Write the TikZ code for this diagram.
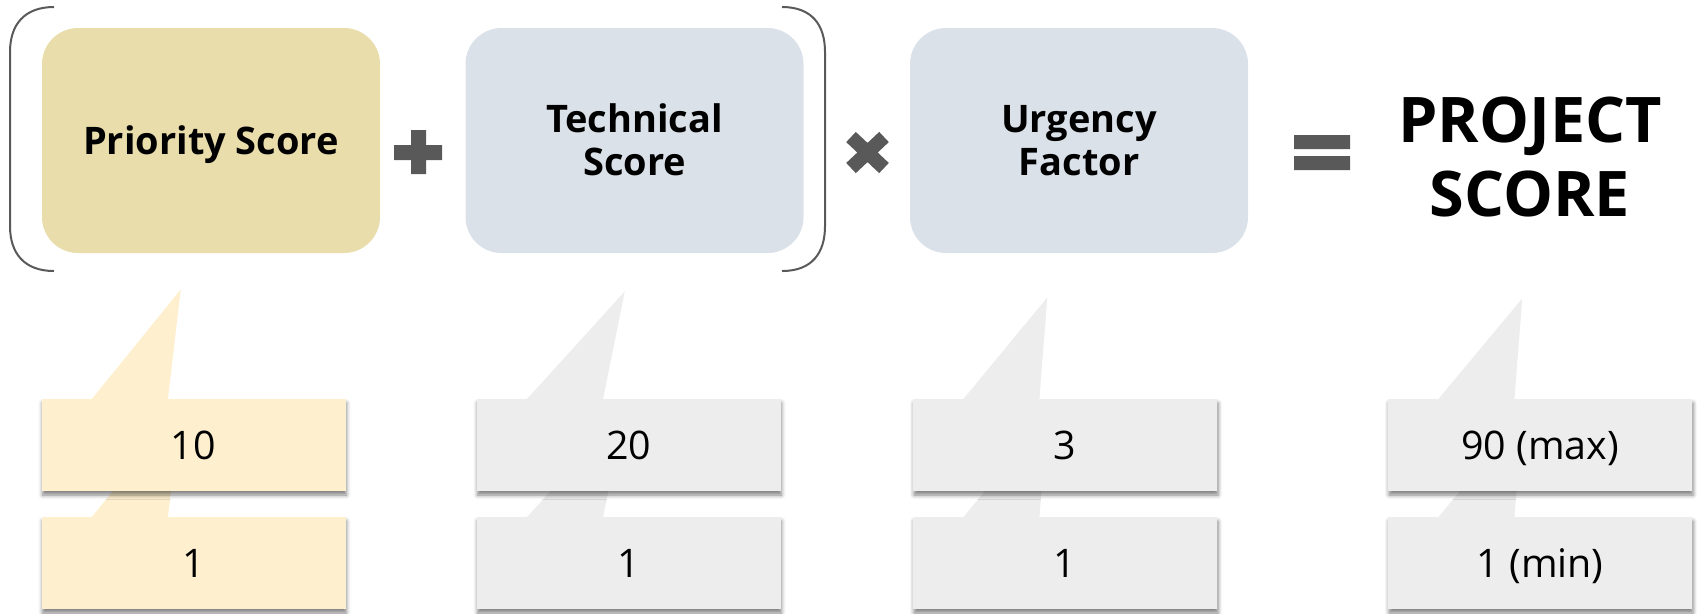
\documentclass[tikz,border=0pt]{standalone}
\usepackage{fontspec}
\setmainfont{Open Sans}
\usetikzlibrary{calc, shadows.blur}

\definecolor{prioFill}{HTML}{E8DDAB}
\definecolor{techFill}{HTML}{DBE1E9}
\definecolor{prioNote}{HTML}{FEF0CF}
\definecolor{grayNote}{HTML}{EDEDED}
\definecolor{opGray}{HTML}{595959}

\tikzset{
    factor/.style={rounded corners=3.6mm, minimum width=33.8mm, minimum height=22.5mm,
        inner sep=0pt, align=center, text depth=0pt,
        font=\bfseries\fontsize{10.8}{12.2}\selectfont},
    note/.style={minimum width=30.4mm, minimum height=9.2mm, inner sep=0pt,
        text height=8pt, text depth=0pt, font=\fontsize{11.2}{13}\selectfont,
        blur shadow={shadow xshift=0.1mm, shadow yshift=-0.4mm,
            shadow blur radius=0.4mm, shadow opacity=50}},
    bracket/.style={draw=opGray, line width=0.2mm}
}

\begin{document}
\begin{tikzpicture}[x=0.1mm, y=-0.1mm]
    \useasboundingbox (0,0) rectangle (1700,613);

    \node[factor, fill=prioFill, text height=7.7pt] (prio) at (211,140.5) {Priority Score};
    \node[factor, fill=techFill, text height=19.9pt] (tech) at (634.5,140.5) {Technical\\Score};
    \node[factor, fill=techFill, text height=19.9pt] (urg) at (1079,140.5) {Urgency\\Factor};
    \node[align=center, inner sep=0pt, text height=34.1pt, text depth=0pt,
        font=\bfseries\fontsize{17.9}{21.3}\selectfont] (proj) at (1530,157) {PROJECT\\SCORE};

    \draw[bracket] (54,7) .. controls (24,7) and (10,25) .. (10,52) -- (10,226)
        .. controls (10,253) and (24,271) .. (54,271);
    \draw[bracket] (782,7) .. controls (812,7) and (825,25) .. (825,52) -- (825,226)
        .. controls (825,253) and (812,271) .. (782,271);

    % operators
    \fill[opGray] (394,145) rectangle (442,160) (411,130) rectangle (426,174);
    \draw[opGray, line width=1.4mm] (851,137) -- (884,168) (851,168) -- (884,137);
    \fill[opGray] (1294,135) rectangle (1350,149) (1294,156) rectangle (1350,170);

    % value notes
    \foreach \i/\cx/\col/\tipx/\tipy/\hiTxt/\loTxt in {
        1/193.5/prioNote/140/-109/10/1,
        2/628.5/grayNote/149/-107/20/1,
        3/1065/grayNote/135/-101/3/1,
        4/1540/grayNote/135/-100/90 (max)/1 (min)} {
        \node[note, fill=\col] (lo\i) at (\cx,563) {\loTxt};
        \fill[\col] ($(lo\i.north west)+(50,2)$) -- ($(lo\i.north west)+(\tipx,\tipy)$)
            -- ($(lo\i.north west)+(127,2)$) -- cycle;
        \node[note, fill=\col] (hi\i) at (\cx,445) {\hiTxt};
        \fill[\col] ($(hi\i.north west)+(50,2)$) -- ($(hi\i.north west)+(\tipx,\tipy)$)
            -- ($(hi\i.north west)+(127,2)$) -- cycle;
    }
\end{tikzpicture}
\end{document}
